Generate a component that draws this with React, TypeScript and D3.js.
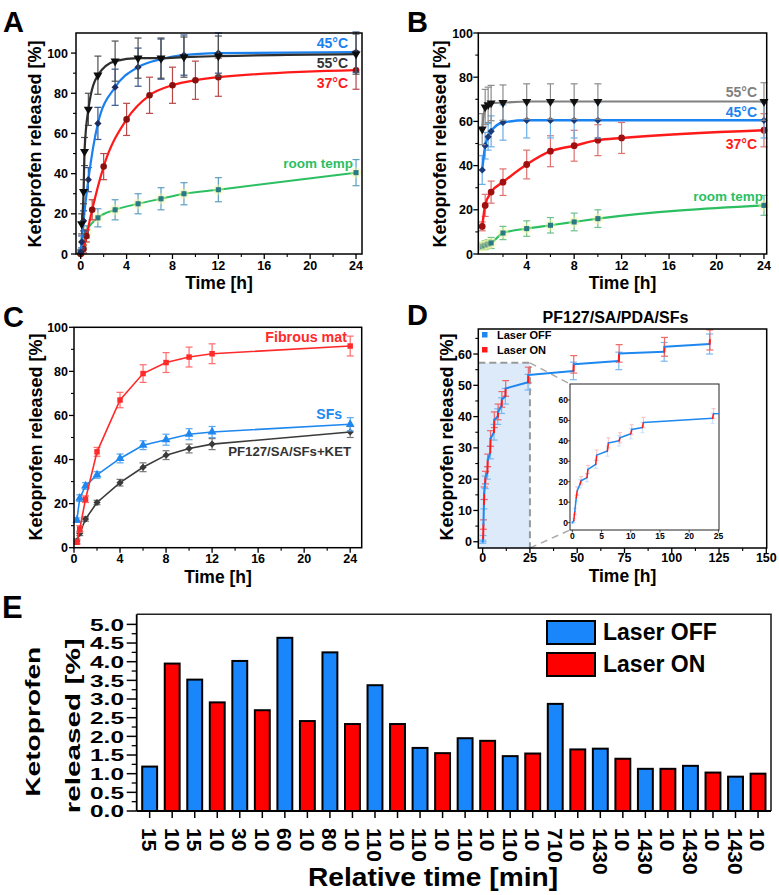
import React from 'react';
import * as d3 from 'd3';

const FONT = '"Liberation Sans", Arial, Helvetica, sans-serif';

// ---------------- Panel A data ----------------
const aTime55 = [0.083, 0.25, 0.333, 0.667, 1.5, 3, 5, 7, 9, 12, 24];
const aVal55 = [15, 31, 51, 72, 89, 96, 97.5, 97.5, 98, 98.5, 99.5];
const aErr55 = [5, 6, 7, 8, 9.5, 10, 10, 10, 10, 10, 10];
const aTime45 = [0, 0.083, 0.25, 0.667, 1.5, 3, 5, 7, 9, 12, 24];
const aVal45 = [1, 6, 16.5, 37, 65, 83, 93, 97, 99, 100, 100.5];
const aErr45 = [1, 3, 5, 6, 8, 9, 9.5, 10, 10, 10, 10];
const aTime37 = [0, 0.25, 0.5, 1, 2, 4, 6, 8, 10, 12, 24];
const aVal37 = [0, 2.5, 9, 22, 43.5, 67, 79, 84, 86.5, 88, 91.5];
const aErr37 = [0.5, 2, 3, 5, 6.5, 8, 9, 9, 9.5, 9.5, 9.5];
const aTimeRT = [0, 0.25, 0.5, 1.5, 3, 5, 7, 9, 12, 24];
const aValRT = [1, 6, 11, 18, 22, 25, 27.5, 30, 32, 40.5];
const aErrRT = [1, 2, 3, 4.5, 5, 5, 5.5, 5.5, 6, 6.5];

// ---------------- Panel B data ----------------
const bTime55 = [0.25, 0.5, 0.75, 1, 2, 4, 6, 8, 10, 24];
const bVal55 = [56.5, 66.5, 67.5, 68.3, 68.5, 69, 69, 69, 69, 69];
const bErr55 = [7, 8, 8, 8, 8, 8, 8, 8, 8, 8.5];
const bTime45 = [0.25, 0.5, 0.75, 1, 2, 4, 6, 8, 10, 24];
const bVal45 = [38, 49, 53, 55.5, 59.5, 60.5, 60.5, 60.5, 60.5, 60.5];
const bErr45 = [6.5, 6, 6, 7, 8, 8, 8, 8, 8, 8];
const bTime37 = [0.25, 0.5, 1, 2, 4, 6, 8, 10, 12, 24];
const bVal37 = [12.5, 22, 28, 32.5, 40.5, 46.5, 49, 51.5, 52.5, 56];
const bErr37 = [2, 5, 5, 6, 6.5, 7, 7, 7, 7, 7.5];
const bTimeRT = [0.25, 0.5, 0.75, 1, 2, 4, 6, 8, 10, 24];
const bValRT = [3.5, 4, 4.5, 5, 9.5, 11.5, 13, 14.5, 16, 22];
const bErrRT = [1.5, 2, 2, 2.5, 3, 3.5, 3.5, 4, 4, 4.5];

// ---------------- Panel C data ----------------
const cTime = [0.25, 0.5, 1, 2, 4, 6, 8, 10, 12, 24];
const cValMat = [2.5, 8.5, 22, 43.5, 67, 79, 84, 86.5, 88, 91.5];
const cErrMat = [1, 1.5, 1.5, 2, 3.5, 4, 4.5, 4.5, 4.5, 4.5];
const cValSF = [12.5, 22.5, 28, 33, 40.5, 46.5, 49, 51.5, 52.5, 56];
const cErrSF = [1, 1.5, 1.5, 1.5, 2, 2, 2.5, 2.5, 2.5, 3];
const cValKet = [3, 6.5, 13, 20.5, 29.5, 36.5, 42, 45, 47, 52.5];
const cErrKet = [1, 1, 1, 1, 1.5, 2, 2, 2, 2.5, 2.5];

// ---------------- Panel D data ----------------
const dTime = [0, 0.25, 0.417, 0.667, 0.833, 1.333, 1.5, 2.5, 2.667, 4, 4.167, 6, 6.167, 8, 8.167, 10, 10.167, 12, 12.167, 24, 24.167, 48, 48.167, 72, 72.167, 96, 96.167, 120, 120.167];
const dValue = [0, 1, 5.5, 12, 15.5, 19, 20.5, 22, 26, 28.5, 33, 35, 39, 40, 41.5, 43.5, 45.5, 46.5, 49, 51, 53.3, 54.6, 56.7, 57.8, 60.2, 60.7, 62.3, 63.2, 64.5];
const dError = [0.5, 1, 1.5, 1.5, 2, 2, 2, 2, 2, 2, 2.5, 2.5, 2.5, 2.5, 2.5, 2.5, 2.5, 2.5, 2.5, 2.5, 2.5, 2.8, 2.8, 2.8, 2.8, 3, 3, 3.2, 3.2];
const dLaser = ['OFF', 'OFF', 'ON', 'OFF', 'ON', 'OFF', 'ON', 'OFF', 'ON', 'OFF', 'ON', 'OFF', 'ON', 'OFF', 'ON', 'OFF', 'ON', 'OFF', 'ON', 'OFF', 'ON', 'OFF', 'ON', 'OFF', 'ON', 'OFF', 'ON', 'OFF', 'ON'];
const dZoomMax = [25, 57.2];

// ---------------- Panel E data ----------------
const eLabels = ['15', '10', '15', '10', '30', '10', '60', '10', '80', '10', '110', '10', '110', '10', '110', '10', '110', '10', '710', '10', '1430', '10', '1430', '10', '1430', '10', '1430', '10'];
const eValues = [1.19, 3.95, 3.52, 2.91, 4.02, 2.70, 4.64, 2.41, 4.25, 2.33, 3.37, 2.33, 1.69, 1.55, 1.95, 1.88, 1.47, 1.54, 2.87, 1.65, 1.67, 1.40, 1.13, 1.13, 1.21, 1.03, 0.92, 1.00];
const eLaser = ['OFF', 'ON', 'OFF', 'ON', 'OFF', 'ON', 'OFF', 'ON', 'OFF', 'ON', 'OFF', 'ON', 'OFF', 'ON', 'OFF', 'ON', 'OFF', 'ON', 'OFF', 'ON', 'OFF', 'ON', 'OFF', 'ON', 'OFF', 'ON', 'OFF', 'ON'];
const eYTicks = [0, 0.5, 1, 1.5, 2, 2.5, 3, 3.5, 4, 4.5, 5];
const eLegend = ['Laser OFF', 'Laser ON'];

// tick arrays
const tTicks24 = [0, 4, 8, 12, 16, 20, 24];
const tMinor24 = [2, 6, 10, 14, 18, 22];
const tTicksB = [4, 8, 12, 16, 20, 24];
const pTicks100 = [0, 20, 40, 60, 80, 100];
const pMinor100 = [10, 30, 50, 70, 90];
const dXTicks = [0, 25, 50, 75, 100, 125, 150];
const dXMinor = [12.5, 37.5, 62.5, 87.5, 112.5, 137.5];
const dYTicks = [0, 10, 20, 30, 40, 50, 60];
const dYMinor = [5, 15, 25, 35, 45, 55, 65];
const insetXTicks = [0, 5, 10, 15, 20, 25];
const insetYTicks = [0, 10, 20, 30, 40, 50, 60];

type Marker = 'tri-down' | 'tri-up' | 'diamond' | 'circle' | 'square';
interface Series {
  t: number[]; v: number[]; e: number[];
  line: string; fill: string; err: string; marker: Marker; size: number; width: number; halo?: string;
}

function symPath(m: Marker, size: number): string {
  if (m === 'circle') return d3.symbol().type(d3.symbolCircle).size(size)() as string;
  if (m === 'square' || m === 'diamond') return d3.symbol().type(d3.symbolSquare).size(size)() as string;
  return d3.symbol().type(d3.symbolTriangle).size(size)() as string;
}
function symRot(m: Marker) { return m === 'diamond' ? 45 : m === 'tri-down' ? 180 : 0; }

function SeriesG({ s, xs, ys, curve }: { s: Series; xs: any; ys: any; curve: any }) {
  const pts: [number, number][] = s.t.map((t, i) => [xs(t), ys(s.v[i])]);
  const path = d3.line().curve(curve)(pts) as string;
  const sp = symPath(s.marker, s.size);
  return (
    <g>
      {s.t.map((t, i) => {
        const x = xs(t); const y1 = ys(s.v[i] + s.e[i]); const y2 = ys(s.v[i] - s.e[i]);
        return (
          <g key={'e' + i} stroke={s.err} strokeWidth={1.2}>
            <line x1={x} x2={x} y1={y1} y2={y2} />
            <line x1={x - 3.5} x2={x + 3.5} y1={y1} y2={y1} />
            <line x1={x - 3.5} x2={x + 3.5} y1={y2} y2={y2} />
          </g>
        );
      })}
      <path d={path} fill="none" stroke={s.line} strokeWidth={s.width} />
      {pts.map((p, i) => (
        <g key={'m' + i} transform={`translate(${p[0]},${p[1]})`}>
          {s.halo ? <circle r={5.5} fill={s.halo} opacity={0.45} /> : null}
          <path d={sp} transform={`rotate(${symRot(s.marker)})`} fill={s.fill} />
        </g>
      ))}
    </g>
  );
}

function Axes({ xs, ys, xTicks, xMinor, yTicks, yMinor, xLabY, yLabX, fs = 13 }: any) {
  const [xa, xb] = xs.range();
  const [yb, ya] = ys.range();
  return (
    <g>
      <rect x={xa} y={ya} width={xb - xa} height={yb - ya} fill="none" stroke="#000" strokeWidth={1.5} />
      {xTicks.map((t: number) => (
        <g key={'xt' + t}>
          <line x1={xs(t)} x2={xs(t)} y1={yb} y2={yb + 5} stroke="#000" strokeWidth={1.3} />
          <text x={xs(t)} y={xLabY} textAnchor="middle" fontSize={fs} fontWeight="bold">{t}</text>
        </g>
      ))}
      {xMinor.map((t: number) => (
        <line key={'xm' + t} x1={xs(t)} x2={xs(t)} y1={yb} y2={yb + 3} stroke="#000" strokeWidth={1.1} />
      ))}
      {yTicks.map((t: number) => (
        <g key={'yt' + t}>
          <line x1={xa - 5} x2={xa} y1={ys(t)} y2={ys(t)} stroke="#000" strokeWidth={1.3} />
          <text x={yLabX} y={ys(t) + 4.6} textAnchor="end" fontSize={fs} fontWeight="bold">{t}</text>
        </g>
      ))}
      {yMinor.map((t: number) => (
        <line key={'ym' + t} x1={xa - 3} x2={xa} y1={ys(t)} y2={ys(t)} stroke="#000" strokeWidth={1.1} />
      ))}
    </g>
  );
}

function YTitle({ x, y, text = 'Ketoprofen released [%]', fs = 18 }: any) {
  return (
    <text transform={`translate(${x},${y}) rotate(-90)`} textAnchor="middle" fontSize={fs} fontWeight="bold">{text}</text>
  );
}

function PanelA() {
  const xs = d3.scaleLinear().domain([-0.41, 24.52]).range([76, 362]);
  const ys = d3.scaleLinear().domain([0, 110]).range([254, 33]);
  const series: Series[] = [
    { t: aTimeRT, v: aValRT, e: aErrRT, line: '#2cbf62', fill: '#2a7a86', err: '#5d9fc0', marker: 'square', size: 26, width: 2, halo: '#f4f7a0' },
    { t: aTime37, v: aVal37, e: aErr37, line: '#ff1a1a', fill: '#8a1010', err: '#b84848', marker: 'circle', size: 34, width: 2.2 },
    { t: aTime45, v: aVal45, e: aErr45, line: '#1a80ee', fill: '#1b2d60', err: '#34558f', marker: 'diamond', size: 26, width: 2.2 },
    { t: aTime55, v: aVal55, e: aErr55, line: '#2e2e2e', fill: '#0d0d0d', err: '#505050', marker: 'tri-down', size: 36, width: 2.2 },
  ];
  return (
    <g>
      <text x={3} y={32} fontSize={29} fontWeight="bold">A</text>
      {series.map((s, i) => <SeriesG key={i} s={s} xs={xs} ys={ys} curve={d3.curveMonotoneX} />)}
      <Axes xs={xs} ys={ys} xTicks={tTicks24} xMinor={tMinor24} yTicks={pTicks100} yMinor={pMinor100} xLabY={270} yLabX={68} fs={12.5} />
      <text x={348} y={48} textAnchor="end" fontSize={14} fontWeight="bold" fill="#1a80ee">45°C</text>
      <text x={348} y={68} textAnchor="end" fontSize={14} fontWeight="bold" fill="#333">55°C</text>
      <text x={348} y={88} textAnchor="end" fontSize={14} fontWeight="bold" fill="#ff1a1a">37°C</text>
      <text x={353} y={168} textAnchor="end" fontSize={13.5} fontWeight="bold" fill="#2cbf62">room temp</text>
      <YTitle x={41} y={144} />
      <text x={219} y={288.5} textAnchor="middle" fontSize={17.5} fontWeight="bold">Time [h]</text>
    </g>
  );
}

function PanelB() {
  const xs = d3.scaleLinear().domain([-0.08, 24.23]).range([478.3, 766.7]);
  const ys = d3.scaleLinear().domain([0, 100]).range([254, 33]);
  const series: Series[] = [
    { t: bTimeRT, v: bValRT, e: bErrRT, line: '#2cbf62', fill: '#2a7a86', err: '#6cc08a', marker: 'square', size: 26, width: 2.2, halo: '#f4f7a0' },
    { t: bTime37, v: bVal37, e: bErr37, line: '#ff1a1a', fill: '#a01010', err: '#e07070', marker: 'circle', size: 36, width: 2.4 },
    { t: bTime45, v: bVal45, e: bErr45, line: '#1a84f0', fill: '#1b3a78', err: '#6aaee8', marker: 'diamond', size: 26, width: 2.4 },
    { t: bTime55, v: bVal55, e: bErr55, line: '#808080', fill: '#111', err: '#8c8c8c', marker: 'tri-down', size: 36, width: 2.2 },
  ];
  return (
    <g>
      <text x={407} y={32} fontSize={29} fontWeight="bold">B</text>
      {series.map((s, i) => <SeriesG key={i} s={s} xs={xs} ys={ys} curve={d3.curveMonotoneX} />)}
      <Axes xs={xs} ys={ys} xTicks={tTicksB} xMinor={tMinor24} yTicks={pTicks100} yMinor={pMinor100} xLabY={270} yLabX={473} fs={12.5} />
      <text x={757} y={96.5} textAnchor="end" fontSize={14} fontWeight="bold" fill="#808080">55°C</text>
      <text x={757} y={117} textAnchor="end" fontSize={14} fontWeight="bold" fill="#1a84f0">45°C</text>
      <text x={757} y={148.5} textAnchor="end" fontSize={14} fontWeight="bold" fill="#ff1a1a">37°C</text>
      <text x={763} y={201} textAnchor="end" fontSize={13.5} fontWeight="bold" fill="#2cbf62">room temp</text>
      <YTitle x={446} y={144} />
      <text x={622.5} y={289} textAnchor="middle" fontSize={17.5} fontWeight="bold">Time [h]</text>
    </g>
  );
}

function PanelC() {
  const xs = d3.scaleLinear().domain([0, 25]).range([74, 361.7]);
  const ys = d3.scaleLinear().domain([0, 100]).range([547.7, 327.3]);
  const series: Series[] = [
    { t: cTime, v: cValKet, e: cErrKet, line: '#3a3a3a', fill: '#3a3a3a', err: '#777', marker: 'diamond', size: 26, width: 1.6 },
    { t: cTime, v: cValSF, e: cErrSF, line: '#1e88f0', fill: '#1e88f0', err: '#5aa8f0', marker: 'tri-up', size: 34, width: 1.6 },
    { t: cTime, v: cValMat, e: cErrMat, line: '#ff2a2a', fill: '#ff2a2a', err: '#ff6a6a', marker: 'square', size: 30, width: 1.6 },
  ];
  return (
    <g>
      <text x={3} y={327} fontSize={29} fontWeight="bold">C</text>
      {series.map((s, i) => <SeriesG key={i} s={s} xs={xs} ys={ys} curve={d3.curveLinear} />)}
      <Axes xs={xs} ys={ys} xTicks={tTicks24} xMinor={tMinor24} yTicks={pTicks100} yMinor={pMinor100} xLabY={563} yLabX={68} fs={12.5} />
      <text x={347} y={341.5} textAnchor="end" fontSize={14.3} fontWeight="bold" fill="#ff2a2a">Fibrous mat</text>
      <text x={342} y={418.5} textAnchor="end" fontSize={14} fontWeight="bold" fill="#1e88f0">SFs</text>
      <text x={351} y={455.5} textAnchor="end" fontSize={13.2} fontWeight="bold" fill="#333">PF127/SA/SFs+KET</text>
      <YTitle x={41.5} y={437} />
      <text x={218} y={583} textAnchor="middle" fontSize={17.5} fontWeight="bold">Time [h]</text>
    </g>
  );
}

const OFFC = '#1e88f0';
const ONC = '#ff1a1a';
const OFFE = '#72b6f2';
const ONE = '#f06060';

function StepLine({ xs, ys, lw, cap, errOpacity }: any) {
  return (
    <g>
      {dTime.map((t, i) => {
        const x = xs(t); const y1 = ys(dValue[i] + dError[i]); const y2 = ys(dValue[i] - dError[i]);
        const c = dLaser[i] === 'ON' ? ONE : OFFE;
        return (
          <g key={'de' + i} stroke={c} strokeWidth={1.2} opacity={errOpacity}>
            <line x1={x} x2={x} y1={y1} y2={y2} />
            <line x1={x - cap} x2={x + cap} y1={y1} y2={y1} />
            <line x1={x - cap} x2={x + cap} y1={y2} y2={y2} />
          </g>
        );
      })}
      {dTime.slice(1).map((t, j) => {
        const i = j + 1;
        return (
          <line key={'ds' + i} x1={xs(dTime[i - 1])} y1={ys(dValue[i - 1])} x2={xs(t)} y2={ys(dValue[i])}
            stroke={dLaser[i] === 'ON' ? ONC : OFFC} strokeWidth={lw} strokeLinecap="round" />
        );
      })}
    </g>
  );
}

function PanelD() {
  const xs = d3.scaleLinear().domain([-2.3, 150.2]).range([478.3, 766.7]);
  const ys = d3.scaleLinear().domain([-2, 68]).range([548, 329]);
  // inset
  const ix = d3.scaleLinear().domain([-0.4, 25.1]).range([570, 719]);
  const iy = d3.scaleLinear().domain([-3.6, 67.8]).range([530, 384]);
  const zx = xs(dZoomMax[0]);
  const zy = ys(dZoomMax[1]);
  const [ixa, ixb] = ix.range();
  const [iyb, iya] = iy.range();
  return (
    <g>
      <text x={407} y={325} fontSize={29} fontWeight="bold">D</text>
      <text x={615.5} y={323} textAnchor="middle" fontSize={16} fontWeight="bold">PF127/SA/PDA/SFs</text>
      <rect x={478.3} y={zy} width={zx - 478.3} height={548 - zy} fill="#dceafa" />
      <path d={`M${478.3},${zy}H${zx}V${548}`} fill="none" stroke="#999" strokeWidth={2} strokeDasharray="7,4" />
      <line x1={zx} y1={zy} x2={ixa} y2={iya} stroke="#aaa" strokeWidth={1.5} strokeDasharray="7,5" />
      <line x1={zx} y1={548} x2={ixa} y2={iyb} stroke="#aaa" strokeWidth={1.5} strokeDasharray="7,5" />
      <StepLine xs={xs} ys={ys} lw={2} cap={3.5} errOpacity={0.95} />
      <Axes xs={xs} ys={ys} xTicks={dXTicks} xMinor={dXMinor} yTicks={dYTicks} yMinor={dYMinor} xLabY={562} yLabX={472} fs={12.5} />
      {/* inset */}
      <rect x={ixa} y={iya} width={ixb - ixa} height={iyb - iya} fill="#fff" stroke="#222" strokeWidth={1} />
      <svg x={ixa} y={iya} width={ixb - ixa} height={iyb - iya} overflow="hidden">
        <g transform={`translate(${-ixa},${-iya})`}>
          <StepLine xs={ix} ys={iy} lw={1.5} cap={2} errOpacity={0.35} />
        </g>
      </svg>
      {insetXTicks.map(t => (
        <g key={'ixt' + t}>
          <line x1={ix(t)} x2={ix(t)} y1={iyb} y2={iyb + 2.5} stroke="#222" strokeWidth={0.8} />
          <text x={ix(t)} y={538.5} textAnchor="middle" fontSize={8.5} fontWeight="bold">{t}</text>
        </g>
      ))}
      {insetYTicks.map(t => (
        <g key={'iyt' + t}>
          <line x1={ixa - 2.5} x2={ixa} y1={iy(t)} y2={iy(t)} stroke="#222" strokeWidth={0.8} />
          <text x={568} y={iy(t) + 3} textAnchor="end" fontSize={8.5} fontWeight="bold">{t}</text>
        </g>
      ))}
      {/* legend */}
      <rect x={482} y={332} width={5.5} height={5.5} fill={OFFC} />
      <text x={497} y={338.5} fontSize={11} fontWeight="bold">Laser OFF</text>
      <rect x={482} y={347} width={5.5} height={5.5} fill={ONC} />
      <text x={497} y={353.5} fontSize={11} fontWeight="bold">Laser ON</text>
      <YTitle x={453} y={437} />
      <text x={622.5} y={582} textAnchor="middle" fontSize={17.5} fontWeight="bold">Time [h]</text>
    </g>
  );
}

function PanelE() {
  const xb = d3.scaleBand<number>().domain(eValues.map((_, i) => i)).range([136.7, 771]).paddingInner(0.25).paddingOuter(0.2);
  const ys = d3.scaleLinear().domain([0, 5.27]).range([811, 614.3]);
  const bw = xb.bandwidth();
  const minor = eYTicks.slice(0, -1).map(v => v + 0.25);
  const BLUE = '#1a86fb';
  const RED = '#ff0000';
  return (
    <g>
      <text x={2} y={618} fontSize={31} fontWeight="bold">E</text>
      {eValues.map((v, i) => (
        <rect key={'b' + i} x={(xb(i) as number) + 1} y={ys(v)} width={bw - 2} height={811 - ys(v)}
          fill={eLaser[i] === 'ON' ? RED : BLUE} stroke="#000" strokeWidth={2} />
      ))}
      <path d={`M136.7,614.3H771V811`} fill="none" stroke="#222" strokeWidth={1.6} />
      <line x1={136.7} x2={136.7} y1={614.3} y2={811} stroke="#000" strokeWidth={1.8} />
      <line x1={136.7} x2={771} y1={811} y2={811} stroke="#000" strokeWidth={1.8} />
      {eYTicks.map(t => (
        <g key={'et' + t}>
          <line x1={126.7} x2={136.7} y1={ys(t)} y2={ys(t)} stroke="#000" strokeWidth={1.5} />
          <text x={124} y={ys(t) + 6.2} textAnchor="end" fontSize={17} fontWeight="bold" textLength={34} lengthAdjust="spacingAndGlyphs">{t.toFixed(1)}</text>
        </g>
      ))}
      {minor.map(t => (
        <line key={'em' + t} x1={131.7} x2={136.7} y1={ys(t)} y2={ys(t)} stroke="#000" strokeWidth={1.3} />
      ))}
      {eLabels.map((l, i) => {
        const cx = (xb(i) as number) + bw / 2;
        return (
          <g key={'xl' + i}>
            <line x1={cx} x2={cx} y1={811} y2={818} stroke="#000" strokeWidth={1.5} />
            <text transform={`translate(${cx},828) rotate(90)`} dy="0.36em" fontSize={21} fontWeight="bold">{l}</text>
          </g>
        );
      })}
      {/* legend */}
      <rect x={547} y={621} width={48} height={23} fill={BLUE} stroke="#000" strokeWidth={2} />
      <text x={603} y={640} fontSize={23} fontWeight="bold">{eLegend[0]}</text>
      <rect x={547} y={653} width={48} height={23} fill={RED} stroke="#000" strokeWidth={2} />
      <text x={603} y={672} fontSize={23} fontWeight="bold">{eLegend[1]}</text>
      {/* axis titles */}
      <text transform="translate(40,721.7) rotate(-90)" textAnchor="middle" fontSize={21} fontWeight="bold" textLength={150} lengthAdjust="spacingAndGlyphs">Ketoprofen</text>
      <text transform="translate(80,725.8) rotate(-90)" textAnchor="middle" fontSize={21} fontWeight="bold" textLength={175} lengthAdjust="spacingAndGlyphs">released [%]</text>
      <text x={433} y={886} textAnchor="middle" fontSize={26} fontWeight="bold" textLength={250} lengthAdjust="spacingAndGlyphs">Relative time [min]</text>
    </g>
  );
}

export default function App() {
  return (
    <svg width={779} height={895} viewBox="0 0 779 895" style={{ position: 'absolute', left: 0, top: 0, fontFamily: FONT }}>
      <rect width={779} height={895} fill="#fff" />
      <PanelA />
      <PanelB />
      <PanelC />
      <PanelD />
      <PanelE />
    </svg>
  );
}
